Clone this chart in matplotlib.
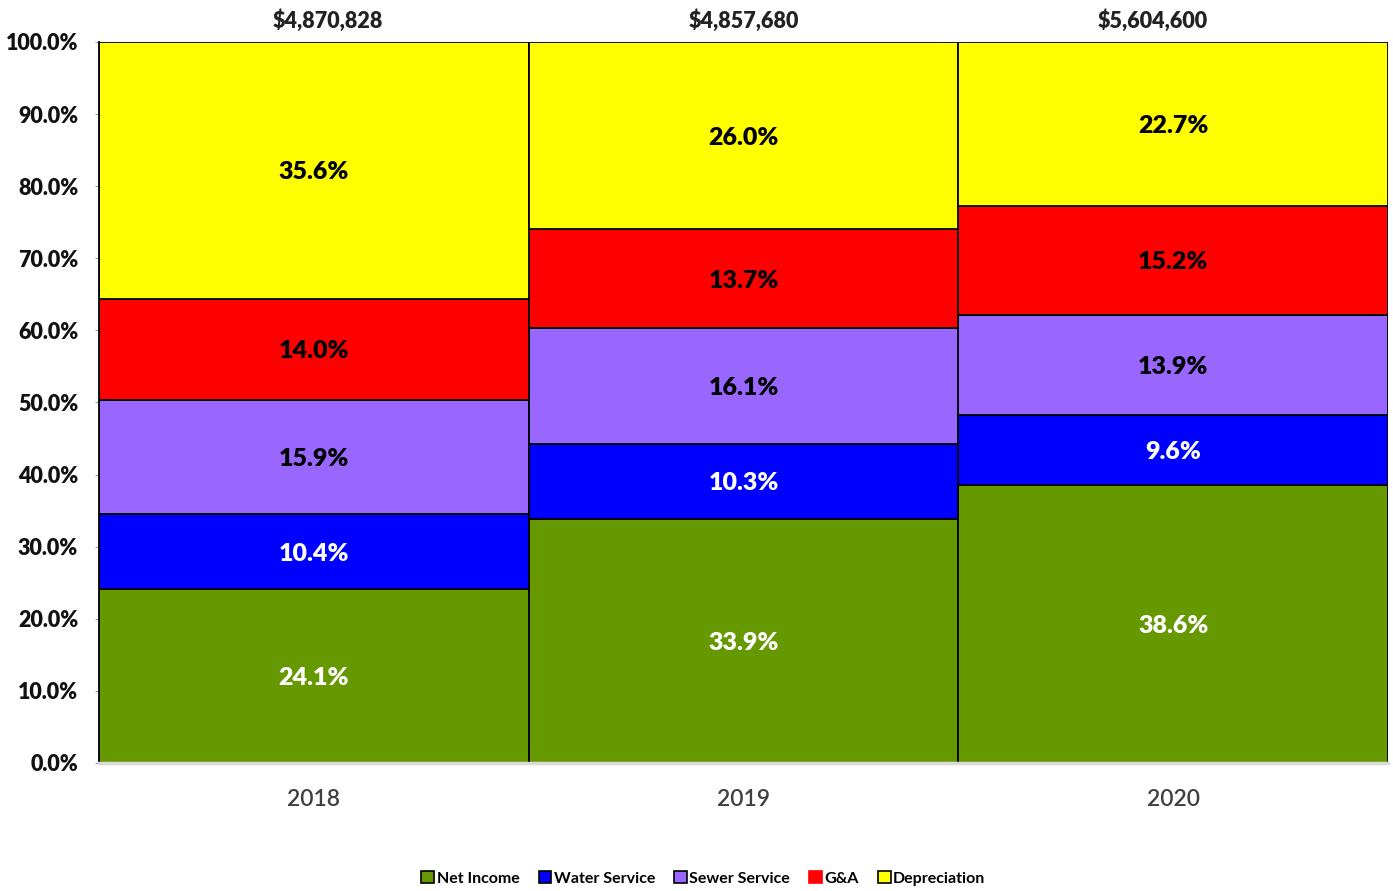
import matplotlib
matplotlib.use("Agg")
import matplotlib.pyplot as plt
from matplotlib.patches import Patch
import numpy as np

plt.rcParams['font.family'] = ['Lato', 'DejaVu Sans']

years = ["2018", "2019", "2020"]
totals = ["$4,870,828", "$4,857,680", "$5,604,600"]
series_names = ["Net Income", "Water Service", "Sewer Service", "G&A", "Depreciation"]
net_income = [24.1, 33.9, 38.6]
water_service = [10.4, 10.3, 9.6]
sewer_service = [15.9, 16.1, 13.9]
g_and_a = [14.0, 13.7, 15.2]
depreciation = [35.6, 26.0, 22.7]

series = [net_income, water_service, sewer_service, g_and_a, depreciation]
colors = ["#669900", "#0000FF", "#9966FF", "#FF0000", "#FFFF00"]
label_colors = ["white", "white", "black", "black", "black"]
# small horizontal nudges for the total labels (style, in bar widths)
total_nudge = [0.033, 0.0, -0.047]

fig = plt.figure(figsize=(13.93, 8.91), dpi=100)
ax = fig.add_axes([0.0711, 0.1437, 0.9253, 0.8092])

x = np.arange(len(years))
bottom = np.zeros(len(years))
for vals, col, lc, name in zip(series, colors, label_colors, series_names):
    vals = np.array(vals)
    ax.bar(x, vals, width=1.0, bottom=bottom, color=col, edgecolor="black",
           linewidth=1.3, label=name, zorder=2)
    for xi, b, v in zip(x, bottom, vals):
        ax.text(xi, b + v / 2, f"{v:.1f}%", ha="center", va="center_baseline",
                color=lc, fontsize=18, fontweight="heavy", zorder=3)
    bottom = bottom + vals

for xi, t, nd in zip(x, totals, total_nudge):
    ax.text(xi + nd, 102.9, t, ha="center", va="center", fontsize=15.5,
            fontweight="heavy", color="#222222", clip_on=False)

ax.set_xlim(-0.5, 2.5)
ax.set_ylim(0, 100)
ax.set_yticks(np.arange(0, 101, 10))
ax.set_yticklabels([f"{v:.1f}%" for v in np.arange(0, 101, 10)],
                   fontsize=15.5, fontweight="heavy", color="#111111")
ax.set_xticks(x)
ax.set_xticklabels(years, fontsize=16.5, color="#404040", fontweight="semibold")
ax.tick_params(axis="x", length=0, pad=19)
ax.tick_params(axis="y", length=3, color="#999999", pad=12)

for s in ["top", "right"]:
    ax.spines[s].set_visible(False)
ax.spines["left"].set_color("black")
ax.spines["left"].set_linewidth(1.3)
ax.spines["bottom"].set_color("#D9D9D9")
ax.spines["bottom"].set_linewidth(2.5)

handles = [Patch(facecolor=c, edgecolor="black" if n != "G&A" else c, linewidth=1.2)
           for c, n in zip(colors, series_names)]
fig.legend(handles, series_names, loc="center", bbox_to_anchor=(0.505, 0.014),
           ncol=5, frameon=False, handlelength=0.8,
           handleheight=0.8, handletextpad=0.15, columnspacing=1.2,
           prop={"weight": "bold", "size": 11.5})

fig.savefig("out.png", dpi=100)
